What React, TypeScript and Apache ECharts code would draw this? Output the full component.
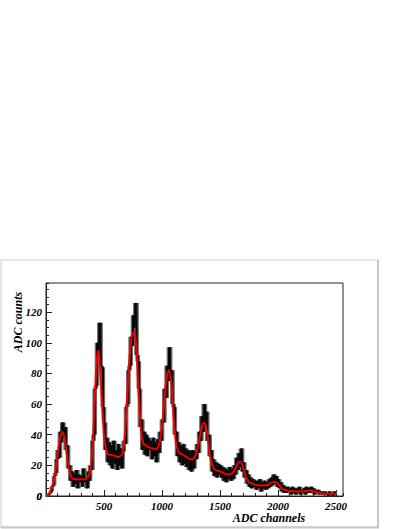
import React, { useEffect, useRef } from "react";
import * as echarts from "echarts";

// Histogram: counts per 10-channel bin (bin i covers channels i*10 .. i*10+10)
const BIN_WIDTH = 10;
const histCounts: number[] = [
  0, 0, 1, 2, 3, 6, 7, 13, 15, 24,
  30, 25, 42, 35, 48, 38, 45, 30, 33, 18,
  20, 10, 16, 6, 15, 8, 17, 5, 14, 9,
  13, 6, 18, 9, 12, 5, 16, 10, 20, 17,
  36, 40, 70, 72, 100, 92, 113, 85, 84, 58,
  48, 30, 38, 22, 35, 20, 33, 18, 36, 21,
  30, 17, 34, 20, 31, 18, 29, 36, 34, 58,
  60, 82, 85, 104, 98, 118, 110, 126, 92, 88,
  70, 45, 50, 30, 42, 27, 40, 26, 38, 30,
  36, 24, 38, 26, 35, 22, 37, 28, 42, 36,
  50, 48, 70, 64, 85, 75, 97, 78, 82, 60,
  58, 40, 42, 26, 35, 22, 33, 20, 34, 21,
  31, 19, 30, 17, 29, 16, 30, 18, 29, 24,
  34, 28, 42, 36, 52, 42, 60, 45, 55, 36,
  40, 26, 30, 16, 24, 13, 22, 12, 21, 14,
  20, 12, 19, 10, 18, 9, 17, 11, 19, 10,
  18, 11, 20, 14, 25, 17, 28, 19, 31, 16,
  22, 12, 17, 8, 14, 6, 12, 5, 11, 6,
  10, 4, 10, 5, 11, 3, 9, 5, 10, 4,
  9, 5, 11, 6, 12, 7, 14, 8, 13, 6,
  11, 5, 9, 3, 7, 2, 6, 2, 6, 3,
  5, 1, 6, 2, 5, 1, 5, 2, 6, 1,
  4, 2, 5, 1, 6, 2, 5, 2, 6, 3,
  5, 1, 4, 2, 4, 1, 3, 1, 3, 1,
  3, 1, 2, 0, 3, 1, 2, 0, 3, 1,
  1,
];

// Fit curve sampled every 20 channels
const FIT_STEP = 20;
const fitValues: number[] = [
  0, 0.5, 3, 8, 16, 27, 37, 42, 38, 27,
  17, 12, 11, 11, 11, 11, 11, 11, 12, 16,
  30, 62, 90, 90, 65, 40, 30, 27, 27, 26.5,
  26, 25.5, 26, 28, 40, 65, 90, 104, 107, 95,
  65, 42, 34, 33, 32, 31.5, 31, 30.5, 31, 35,
  45, 62, 77, 82, 74, 52, 35, 29, 27.5, 27,
  26, 25, 24, 24, 25, 29, 36, 44, 48, 45,
  35, 24, 19, 17, 16.5, 16, 15.5, 14.5, 14, 14,
  14.5, 16, 19, 22, 22, 18, 13, 10, 8.5, 8,
  7.5, 7, 7, 6.8, 6.8, 7, 7.5, 8.5, 9, 9,
  8, 6, 4.5, 4, 3.5, 3.3, 3.2, 3.1, 3, 3,
  3, 3, 3.2, 3.5, 3.6, 3.3, 2.8, 2.3, 2, 1.8,
  1.7, 1.6, 1.5, 1.5, 1.5, 1.4,
];
// extra fit sample at the top of the 450-channel peak
const fitExtra: [number, number][] = [[450, 95]];

const X_MAX = 2560;
const Y_MAX = 139;
const xTitle = "ADC channels";
const yTitle = "ADC counts";

const FONT = "'Liberation Serif', 'Times New Roman', serif";

export default function App() {
  const ref = useRef<HTMLDivElement>(null);
  useEffect(() => {
    if (!ref.current) return;
    const chart = echarts.init(ref.current, null, { renderer: "svg" });
    const xOf = (i: number) => i * BIN_WIDTH + BIN_WIDTH / 2;
    const hist = histCounts.map((v, i) => [xOf(i), v]);
    // local fluctuation envelope of the histogram over neighbouring bins
    const envelope = (w: number) =>
      histCounts.map((v, i) => {
        let lo = v;
        let hi = v;
        for (let k = i - w; k <= i + w; k++) {
          const u = histCounts[k];
          if (u === undefined) continue;
          lo = Math.min(lo, u);
          hi = Math.max(hi, u);
        }
        return [xOf(i), lo, hi];
      });
    const bandOuter = envelope(2);
    const bandInner = envelope(1);
    const fit = fitValues
      .map((v, i) => [i * FIT_STEP, v] as [number, number])
      .concat(fitExtra)
      .sort((a, b) => a[0] - b[0]);

    const renderBand = (fill: string) => (params: any, api: any) => {
      const x = api.value(0);
      const p1 = api.coord([x - BIN_WIDTH / 2, api.value(2)]);
      const p2 = api.coord([x + BIN_WIDTH / 2, api.value(1)]);
      return {
        type: "rect",
        shape: { x: p1[0], y: p1[1], width: p2[0] - p1[0], height: p2[1] - p1[1] },
        style: { fill },
      };
    };

    const labelStyle = {
      fontFamily: FONT,
      fontStyle: "italic" as const,
      fontWeight: "bold" as const,
      fontSize: 11,
      color: "#000",
    };
    const grid = { left: 46, top: 283, width: 297, height: 213 };

    chart.setOption({
      animation: false,
      backgroundColor: "#fff",
      grid: [{ ...grid, show: true, borderColor: "#222", borderWidth: 1, backgroundColor: "transparent" }],
      xAxis: [
        {
          type: "value",
          min: 0,
          max: X_MAX,
          interval: 500,
          axisLine: { show: true, onZero: false, lineStyle: { color: "#222", width: 1 } },
          axisTick: { show: true, inside: true, length: 6, lineStyle: { color: "#222" } },
          axisLabel: { ...labelStyle, margin: 4, showMaxLabel: false, formatter: (v: number) => (v === 0 ? "" : String(v)) },
          splitLine: { show: false },
        },
        {
          type: "value",
          min: 0,
          max: X_MAX,
          interval: 100,
          position: "bottom",
          axisLine: { show: false },
          axisTick: { show: true, inside: true, length: 3, lineStyle: { color: "#222" } },
          axisLabel: { show: false },
          splitLine: { show: false },
        },
      ],
      yAxis: [
        {
          type: "value",
          min: 0,
          max: Y_MAX,
          interval: 20,
          axisLine: { show: true, onZero: false, lineStyle: { color: "#222", width: 1 } },
          axisTick: { show: true, inside: true, length: 6, lineStyle: { color: "#222" } },
          axisLabel: { ...labelStyle, margin: 4, showMaxLabel: false },
          splitLine: { show: false },
        },
        {
          type: "value",
          min: 0,
          max: Y_MAX,
          interval: 5,
          position: "left",
          axisLine: { show: false },
          axisTick: { show: true, inside: true, length: 3, lineStyle: { color: "#222" } },
          axisLabel: { show: false },
          splitLine: { show: false },
        },
      ],
      series: [
        {
          type: "custom",
          data: bandOuter,
          encode: { x: 0, y: [1, 2] },
          silent: true,
          z: 1,
          renderItem: renderBand("#6a6a6a"),
        },
        {
          type: "custom",
          data: bandInner,
          encode: { x: 0, y: [1, 2] },
          silent: true,
          z: 1,
          renderItem: renderBand("#0a0a0a"),
        },
        {
          type: "line",
          data: hist,
          symbol: "none",
          lineStyle: { color: "#000", width: 1 },
          z: 2,
        },
        {
          type: "line",
          data: fit,
          symbol: "none",
          smooth: 0.35,
          lineStyle: { color: "#ee0000", width: 2 },
          z: 3,
        },
      ],
      graphic: [
        {
          type: "rect",
          shape: { x: 1, y: 260, width: 377, height: 267 },
          style: { fill: "none", stroke: "#e6e6e6", lineWidth: 2 },
          z: 0,
        },
        {
          type: "line",
          shape: { x1: 378, y1: 260, x2: 378, y2: 528 },
          style: { stroke: "#c8c8c8", lineWidth: 2 },
        },
        {
          type: "line",
          shape: { x1: 1, y1: 527.5, x2: 379, y2: 527.5 },
          style: { stroke: "#c8c8c8", lineWidth: 2 },
        },
        {
          type: "text",
          x: 18,
          y: 322,
          rotation: Math.PI / 2,
          style: {
            text: yTitle,
            fontFamily: FONT,
            fontStyle: "italic",
            fontWeight: "bold",
            fontSize: 12,
            fill: "#000",
            align: "center",
            verticalAlign: "middle",
          },
        },
        {
          type: "text",
          x: 269,
          y: 518,
          style: {
            text: xTitle,
            fontFamily: FONT,
            fontStyle: "italic",
            fontWeight: "bold",
            fontSize: 12,
            fill: "#000",
            align: "center",
            verticalAlign: "middle",
          },
        },
        {
          type: "text",
          x: 42,
          y: 496,
          style: { text: "0", fontFamily: FONT, fontStyle: "italic", fontWeight: "bold", fontSize: 11, fill: "#000", align: "right", verticalAlign: "middle" },
        },
      ],
    });
    return () => chart.dispose();
  }, []);
  return (
    <div
      ref={ref}
      style={{ position: "fixed", left: 0, top: 0, width: 409, height: 529 }}
    />
  );
}
